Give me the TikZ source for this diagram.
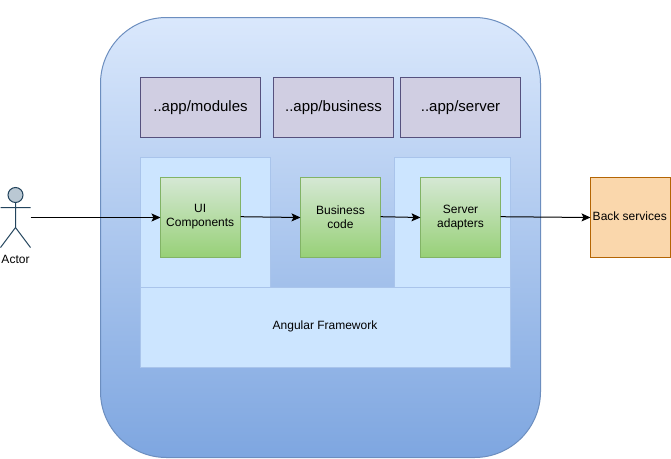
\documentclass[tikz,border=0pt]{standalone}
\usepackage{fontspec}
\setmainfont{Liberation Sans}
\usetikzlibrary{arrows.meta}
\tikzset{
  box/.style={draw,inner sep=0pt,outer sep=0pt,line width=1pt,align=center,font=\fontsize{12}{14}\selectfont},
  outerbox/.style={box,minimum width=440pt,minimum height=440pt,rounded corners=66pt,draw=outerline,top color=outertop,bottom color=outerbottom},
  modulebox/.style={box,minimum width=120pt,minimum height=60pt,draw=modline,fill=modfill,font=\fontsize{15}{17}\selectfont},
  lightbox/.style={box,draw=lightline,fill=lightfill},
  greenbox/.style={box,minimum width=80pt,minimum height=80pt,draw=greenline,top color=greentop,bottom color=greenbottom},
  orangebox/.style={box,minimum width=80pt,minimum height=80pt,draw=orangeline,fill=orangefill},
  actorline/.style={draw=actorstroke,line width=1pt},
  conn/.style={draw=black,line width=1pt,-{Stealth[length=9pt,width=8pt,inset=2pt]}},
  plain/.style={inner sep=0pt,align=center,font=\fontsize{12}{14}\selectfont}
}
\definecolor{outerline}{HTML}{6C8EBF}
\definecolor{outertop}{HTML}{DAE8FC}
\definecolor{outerbottom}{HTML}{7EA6E0}
\definecolor{modline}{HTML}{56517E}
\definecolor{modfill}{HTML}{D0CEE2}
\definecolor{lightline}{HTML}{A9C4EB}
\definecolor{lightfill}{HTML}{CCE5FF}
\definecolor{greenline}{HTML}{82B366}
\definecolor{greentop}{HTML}{D5E8D4}
\definecolor{greenbottom}{HTML}{97D077}
\definecolor{orangeline}{HTML}{B46504}
\definecolor{orangefill}{HTML}{FAD7AC}
\definecolor{actorstroke}{HTML}{23445D}
\definecolor{actorfill}{HTML}{BAC8D3}
\begin{document}
\begin{tikzpicture}[x=1pt,y=-1pt]
\useasboundingbox (0,0) rectangle (671,458);
\node[outerbox] (outer) at (320.5,237.5) {};
\node[modulebox] (modules) at (200.5,107.5) {..app/modules};
\node[modulebox] (business) at (333.5,107.5) {..app/business};
\node[modulebox] (server) at (460.5,107.5) {..app/server};
\node[lightbox,minimum width=130pt,minimum height=130pt] (leftpanel) at (205.5,222.5) {};
\node[lightbox,minimum width=116pt,minimum height=130pt] (rightpanel) at (452.5,222.5) {};
\node[lightbox,minimum width=370pt,minimum height=80pt] (framework) at (325.5,327.5) {};
\node[plain] (fwlabel) at (325,326) {Angular Framework};
\node[greenbox] (ui) at (200.5,217.5) {};
\node[plain] (uilabel) at (200.2,216.5) {UI\\Components};
\node[greenbox] (biz) at (340.5,217.5) {Business\\code};
\node[greenbox] (adapters) at (460.5,217.5) {Server\\adapters};
\node[orangebox] (back) at (630.5,217.5) {\raisebox{2pt}{Back services}\kern1.5pt};
% actor
\draw[actorline,fill=actorfill] (15.5,195) circle[radius=7.5];
\draw[actorline] (15.5,202.5) -- (15.5,227.5) (0.5,207.5) -- (30.5,207.5)
  (0.5,247.5) -- (15.5,227.5) -- (30.5,247.5);
\coordinate (actor) at (30.5,217.5);
\node[plain] (actorlabel) at (15.5,259.5) {Actor};
\draw[conn] (actor) -- (ui.west);
\draw[conn] ([yshift=0.8pt]ui.east) -- (biz.west);
\draw[conn] ([yshift=0.8pt]biz.east) -- (adapters.west);
\draw[conn] ([yshift=0.8pt]adapters.east) -- (back.west);
\end{tikzpicture}
\end{document}
